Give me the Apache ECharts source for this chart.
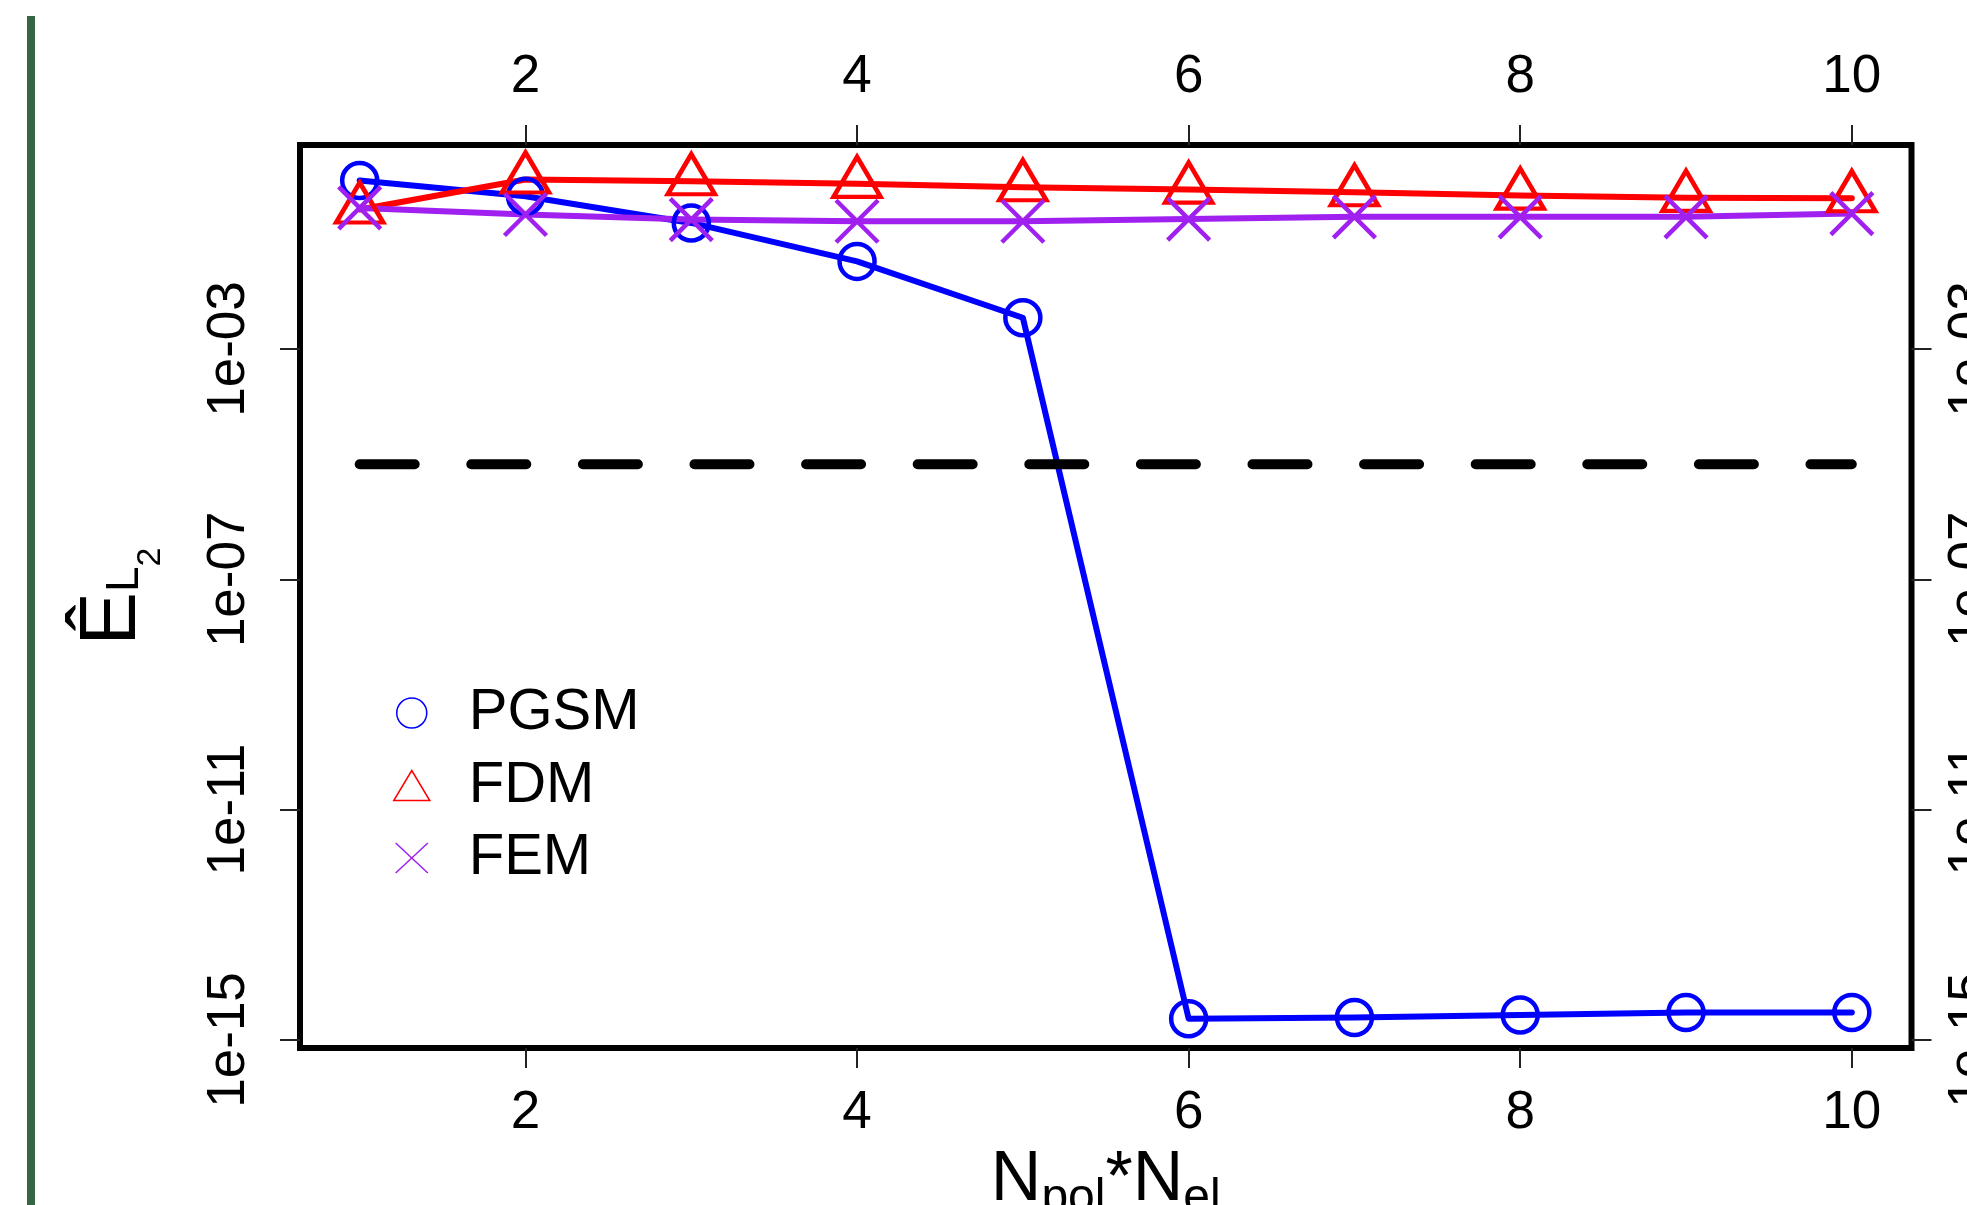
<!DOCTYPE html>
<html lang="en">
<head>
    <meta charset="UTF-8">
    <title>PGSM FDM FEM</title>
    <style>
        html, body { margin: 0; padding: 0; background: #fff; }
    </style>
</head>
<body>
    <div id="main" style="width: 1967px;height:1205px;"></div>
    <script src="https://cdn.jsdelivr.net/npm/echarts@6/dist/echarts.min.js"></script>
<script type="text/javascript">
    // data (log scale y)
    var xValues = [1, 2, 3, 4, 5, 6, 7, 8, 9, 10];
    var pgsm = [0.845, 0.451, 0.155, 0.0333, 0.0035, 2.34e-15, 2.45e-15, 2.71e-15, 3.0e-15, 3.0e-15];
    var fdm = [0.265, 0.879, 0.822, 0.741, 0.646, 0.589, 0.528, 0.463, 0.423, 0.416];
    var fem = [0.283, 0.217, 0.177, 0.166, 0.166, 0.181, 0.198, 0.198, 0.198, 0.225];
    var tolerance = 1e-5;

    var xTicks = [2, 4, 6, 8, 10];
    var yTickValues = [1e-3, 1e-7, 1e-11, 1e-15];
    var yTickLabels = ['1e-03', '1e-07', '1e-11', '1e-15'];

    var font = 'Liberation Sans, Arial, sans-serif';

    function pairs(ys) {
        var arr = [];
        for (var i = 0; i < xValues.length; i++) {
            arr.push([xValues[i], ys[i]]);
        }
        return arr;
    }

    function yLabel(v) {
        for (var i = 0; i < yTickValues.length; i++) {
            if (Math.abs(Math.log10(v) - Math.log10(yTickValues[i])) < 0.01) return yTickLabels[i];
        }
        return '';
    }

    var tickStyle = {show: true, inside: false, length: 20, lineStyle: {color: '#222', width: 2}};

    function xAxisOpt(pos, margin) {
        return {
            type: 'value', position: pos, min: 0.64, max: 10.36,
            axisLine: {show: false}, splitLine: {show: false},
            axisTick: Object.assign({customValues: xTicks}, tickStyle),
            axisLabel: {customValues: xTicks, margin: margin, fontSize: 53, color: '#000', fontFamily: font}
        };
    }

    function yAxisOpt(pos, margin) {
        return {
            type: 'log', logBase: 10, position: pos,
            min: Math.pow(10, -15.14), max: Math.pow(10, 0.544),
            axisLine: {show: false}, splitLine: {show: false}, minorTick: {show: false},
            axisTick: Object.assign({customValues: yTickValues}, tickStyle),
            axisLabel: {customValues: yTickValues, rotate: 90, margin: margin, fontSize: 53, color: '#000',
                fontFamily: font, formatter: yLabel}
        };
    }

    var xBottom = xAxisOpt('bottom', 39);
    xBottom.name = '{n|N}{s|pol}{n|*N}{s|el}';
    xBottom.nameLocation = 'middle';
    xBottom.nameGap = 98;
    xBottom.nameMoveOverlap = false;
    xBottom.nameTextStyle = {
        fontFamily: font, color: '#000',
        rich: {
            n: {fontSize: 70, lineHeight: 70, verticalAlign: 'top', fontFamily: font, color: '#000'},
            s: {fontSize: 48, lineHeight: 48, verticalAlign: 'top', padding: [29, 0, 0, 0], fontFamily: font, color: '#000'}
        }
    };

    var yLeft = yAxisOpt('left', 44);
    yLeft.name = '{e|Ê}{l|L}{t|2}';
    yLeft.nameLocation = 'middle';
    yLeft.nameRotate = 90;
    yLeft.nameGap = 147;
    yLeft.nameMoveOverlap = false;
    yLeft.nameTextStyle = {
        fontFamily: font, color: '#000',
        rich: {
            e: {fontSize: 80, lineHeight: 80, verticalAlign: 'top', fontFamily: font, color: '#000'},
            l: {fontSize: 46, lineHeight: 46, verticalAlign: 'top', padding: [29, 0, 0, 0], fontFamily: font, color: '#000'},
            t: {fontSize: 34, lineHeight: 34, verticalAlign: 'top', padding: [61, 0, 0, 0], fontFamily: font, color: '#000'}
        }
    };

    var myChart = echarts.init(document.getElementById('main'));

    myChart.setOption({
        animation: false,
        backgroundColor: '#fff',
        grid: {
            left: 300, right: 55.5, top: 145, bottom: 157,
            show: true, borderColor: '#000', borderWidth: 6, backgroundColor: 'transparent',
            containLabel: false, outerBoundsMode: 'none'
        },
        xAxis: [xBottom, xAxisOpt('top', 41)],
        yAxis: [yLeft, yAxisOpt('right', 32)],
        legend: {
            orient: 'vertical', left: 393, top: 683, padding: 0,
            itemWidth: 36, itemHeight: 30, itemGap: 12.5,
            textStyle: {fontSize: 58, lineHeight: 60, color: '#000', fontFamily: font, padding: [0, 0, 0, 34]},
            data: [
                {name: 'PGSM', icon: 'circle',
                    itemStyle: {color: 'rgba(0,0,0,0)', borderColor: '#0000ff', borderWidth: 1.5}},
                {name: 'FDM', icon: 'triangle',
                    itemStyle: {color: 'rgba(0,0,0,0)', borderColor: '#ff0000', borderWidth: 1.5}},
                {name: 'FEM', icon: 'path://M0,0L30,28M30,0L0,28',
                    itemStyle: {color: 'rgba(0,0,0,0)', borderColor: '#a020f0', borderWidth: 1.5}}
            ]
        },
        graphic: [{
            type: 'rect', shape: {x: 27, y: 16, width: 8, height: 1200},
            style: {fill: '#356643'}, silent: true
        }],
        series: [
            {
                name: 'PGSM', type: 'line', data: pairs(pgsm),
                symbol: 'circle', symbolSize: 35,
                itemStyle: {color: 'rgba(0,0,0,0)', borderColor: '#0000ff', borderWidth: 4.5},
                lineStyle: {color: '#0000ff', width: 6, cap: 'round', join: 'round'},
                emphasis: {disabled: true}
            },
            {
                name: 'FDM', type: 'line', data: pairs(fdm),
                symbol: 'triangle', symbolSize: [47, 40], symbolOffset: [0, -7],
                itemStyle: {color: 'rgba(0,0,0,0)', borderColor: '#ff0000', borderWidth: 4.5},
                lineStyle: {color: '#ff0000', width: 6, cap: 'round', join: 'round'},
                emphasis: {disabled: true}
            },
            {
                name: 'FEM', type: 'line', data: pairs(fem),
                symbol: 'path://M0,0L42,42M42,0L0,42', symbolSize: 42,
                itemStyle: {color: 'rgba(0,0,0,0)', borderColor: '#a020f0', borderWidth: 4.5},
                lineStyle: {color: '#a020f0', width: 6, cap: 'round', join: 'round'},
                emphasis: {disabled: true}
            },
            {
                name: 'tol', type: 'line', data: [[xValues[0], tolerance], [xValues[xValues.length - 1], tolerance]],
                showSymbol: false, symbol: 'none',
                lineStyle: {color: '#000', width: 10, type: [55, 56.6], cap: 'round'},
                emphasis: {disabled: true}
            }
        ]
    });
</script>
</body>
</html>
